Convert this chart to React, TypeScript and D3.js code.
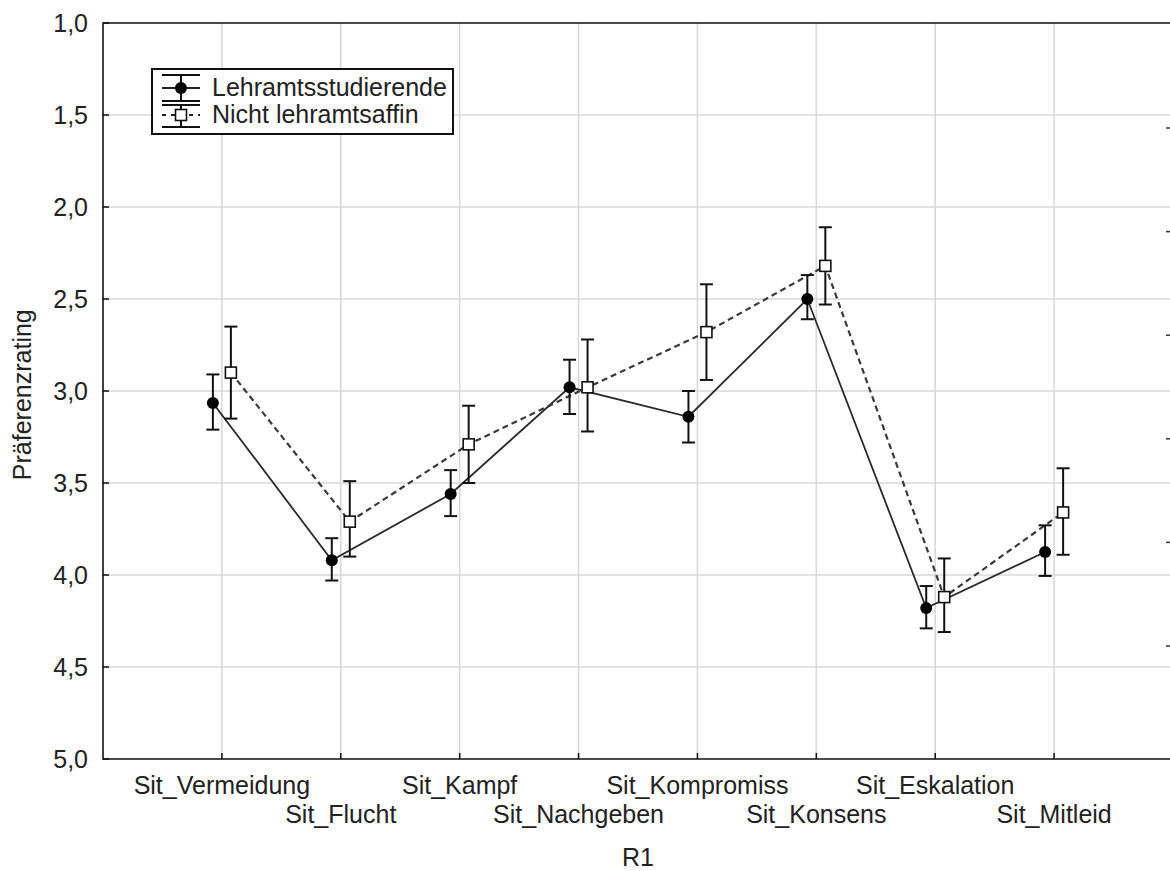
import React, { useRef, useEffect } from "react";
import * as d3 from "d3";

const categories = [
  "Sit_Vermeidung",
  "Sit_Flucht",
  "Sit_Kampf",
  "Sit_Nachgeben",
  "Sit_Kompromiss",
  "Sit_Konsens",
  "Sit_Eskalation",
  "Sit_Mitleid",
];

// Lehramtsstudierende (filled circle, solid line)
const lehrMean = [3.065, 3.92, 3.56, 2.98, 3.14, 2.5, 4.18, 3.875];
const lehrLow = [2.91, 3.8, 3.43, 2.83, 3.0, 2.37, 4.06, 3.73];
const lehrHigh = [3.21, 4.03, 3.68, 3.125, 3.28, 2.61, 4.29, 4.005];

// Nicht lehramtsaffin (open square, dashed line)
const nichtMean = [2.9, 3.71, 3.29, 2.98, 2.68, 2.32, 4.12, 3.66];
const nichtLow = [2.65, 3.49, 3.08, 2.72, 2.42, 2.11, 3.91, 3.42];
const nichtHigh = [3.15, 3.9, 3.5, 3.22, 2.94, 2.53, 4.31, 3.89];

const yTicks = [1.0, 1.5, 2.0, 2.5, 3.0, 3.5, 4.0, 4.5, 5.0];
const rightTicks = [0, 0.2, 0.4, 0.6, 0.8, 1.0];

const seriesNames = ["Lehramtsstudierende", "Nicht lehramtsaffin"];

const W = 1170;
const H = 871;
const FONT = "'Liberation Sans', Arial, sans-serif";
const FS = "25px";
const TEXT = "#222";

const App = () => {
  const svgRef = useRef<SVGSVGElement>(null);

  useEffect(() => {
    document.body.style.margin = "0";
    const svg = d3.select(svgRef.current);
    svg.selectAll("*").remove();

    const left = 103;
    const top = 23;
    const bottom = 759;
    const rightEdge = 1173;

    const x = d3.scaleLinear().domain([0, 9]).range([left, rightEdge]);
    const y = d3.scaleLinear().domain([1, 5]).range([top, bottom]);
    const yRight = d3.scaleLinear().domain([0, 1]).range([128, 646]);
    const off = 9;

    // grid
    const grid = svg.append("g");
    grid
      .selectAll(".hg")
      .data(yTicks.slice(1, -1))
      .enter()
      .append("line")
      .attr("x1", left)
      .attr("x2", W)
      .attr("y1", (d) => y(d))
      .attr("y2", (d) => y(d))
      .attr("stroke", "#d9d9d9")
      .attr("stroke-width", 1.6);
    grid
      .selectAll(".vg")
      .data(categories)
      .enter()
      .append("line")
      .attr("x1", (d, i) => x(i + 1))
      .attr("x2", (d, i) => x(i + 1))
      .attr("y1", top)
      .attr("y2", bottom)
      .attr("stroke", "#d9d9d9")
      .attr("stroke-width", 1.6);

    // axes frame
    svg
      .append("path")
      .attr("d", `M${W},${top}H${left}V${bottom}H${W}`)
      .attr("fill", "none")
      .attr("stroke", "#111")
      .attr("stroke-width", 1.6);

    // y ticks + labels
    const fmt = (v: number) => d3.format(".1f")(v).replace(".", ",");
    svg
      .selectAll(".yt")
      .data(yTicks)
      .enter()
      .append("line")
      .attr("x1", left)
      .attr("x2", left + 6)
      .attr("y1", (d) => y(d))
      .attr("y2", (d) => y(d))
      .attr("stroke", "#111")
      .attr("stroke-width", 1.5);
    svg
      .selectAll(".yl")
      .data(yTicks)
      .enter()
      .append("text")
      .attr("x", 88)
      .attr("y", (d) => y(d))
      .attr("dy", "0.35em")
      .attr("text-anchor", "end")
      .style("font-family", FONT)
      .style("font-size", FS)
      .style("fill", TEXT)
      .text(fmt);

    // right-side ticks
    svg
      .selectAll(".rt")
      .data(rightTicks)
      .enter()
      .append("line")
      .attr("x1", rightEdge - 7)
      .attr("x2", rightEdge)
      .attr("y1", (d) => yRight(d))
      .attr("y2", (d) => yRight(d))
      .attr("stroke", "#333")
      .attr("stroke-width", 1.5);

    // x ticks + labels
    svg
      .selectAll(".xt")
      .data(categories)
      .enter()
      .append("line")
      .attr("x1", (d, i) => x(i + 1))
      .attr("x2", (d, i) => x(i + 1))
      .attr("y1", bottom)
      .attr("y2", bottom - 6)
      .attr("stroke", "#111")
      .attr("stroke-width", 1.5);
    svg
      .selectAll(".xl")
      .data(categories)
      .enter()
      .append("text")
      .attr("x", (d, i) => x(i + 1))
      .attr("y", (d, i) => (i % 2 === 0 ? 794 : 823))
      .attr("text-anchor", "middle")
      .style("font-family", FONT)
      .style("font-size", FS)
      .style("fill", TEXT)
      .text((d) => d);

    // axis titles
    svg
      .append("text")
      .attr("x", x(4.5))
      .attr("y", 866)
      .attr("text-anchor", "middle")
      .style("font-family", FONT)
      .style("font-size", FS)
      .style("fill", TEXT)
      .text("R1");
    svg
      .append("text")
      .attr("transform", `translate(31,${y(3.02)}) rotate(-90)`)
      .attr("text-anchor", "middle")
      .style("font-family", FONT)
      .style("font-size", FS)
      .style("fill", TEXT)
      .text("Präferenzrating");

    const series = [
      { mean: lehrMean, low: lehrLow, high: lehrHigh, dx: -off, dash: null, color: "#2a2a2a" },
      { mean: nichtMean, low: nichtLow, high: nichtHigh, dx: off, dash: "6,4", color: "#3a3a3a" },
    ];

    series.forEach((s) => {
      const line = d3
        .line<number>()
        .x((d, i) => x(i + 1) + s.dx)
        .y((d) => y(d));
      svg
        .append("path")
        .datum(s.mean)
        .attr("d", line)
        .attr("fill", "none")
        .attr("stroke", s.color)
        .attr("stroke-width", s.dash ? 2.2 : 1.8)
        .attr("stroke-dasharray", s.dash);
    });

    series.forEach((s, si) => {
      const g = svg.append("g");
      s.mean.forEach((m, i) => {
        const cx = x(i + 1) + s.dx;
        const y1 = y(s.low[i]);
        const y2 = y(s.high[i]);
        g.append("line")
          .attr("x1", cx).attr("x2", cx).attr("y1", y1).attr("y2", y2)
          .attr("stroke", "#111").attr("stroke-width", 2);
        [y1, y2].forEach((yy) =>
          g.append("line")
            .attr("x1", cx - 6.5).attr("x2", cx + 6.5).attr("y1", yy).attr("y2", yy)
            .attr("stroke", "#111").attr("stroke-width", 2)
        );
        if (si === 0) {
          g.append("circle").attr("cx", cx).attr("cy", y(m)).attr("r", 6).attr("fill", "#000");
        } else {
          g.append("rect")
            .attr("x", cx - 5.5).attr("y", y(m) - 5.5).attr("width", 11).attr("height", 11)
            .attr("fill", "#fff").attr("stroke", "#111").attr("stroke-width", 1.6);
        }
      });
    });

    // legend
    const lg = svg.append("g");
    lg.append("rect")
      .attr("x", 152).attr("y", 69).attr("width", 301).attr("height", 65)
      .attr("fill", "#fff").attr("stroke", "#111").attr("stroke-width", 2);
    const rows = [
      { cy: 88, c1: 75, c2: 101, dash: null },
      { cy: 115, c1: 105, c2: 127, dash: "4,5" },
    ];
    rows.forEach((r, i) => {
      lg.append("line").attr("x1", 162).attr("x2", 200).attr("y1", r.cy).attr("y2", r.cy)
        .attr("stroke", "#222").attr("stroke-width", 2).attr("stroke-dasharray", r.dash);
      [r.c1, r.c2].forEach((yy) =>
        lg.append("line").attr("x1", 162).attr("x2", 200).attr("y1", yy).attr("y2", yy)
          .attr("stroke", "#111").attr("stroke-width", 2)
      );
      lg.append("line").attr("x1", 181).attr("x2", 181).attr("y1", r.c1).attr("y2", r.c2)
        .attr("stroke", "#111").attr("stroke-width", 2);
      if (i === 0) {
        lg.append("circle").attr("cx", 181).attr("cy", r.cy).attr("r", 6).attr("fill", "#000");
      } else {
        lg.append("rect").attr("x", 175.5).attr("y", r.cy - 5.5).attr("width", 11).attr("height", 11)
          .attr("fill", "#fff").attr("stroke", "#111").attr("stroke-width", 1.6);
      }
      lg.append("text")
        .attr("x", 212).attr("y", r.cy + 8)
        .style("font-family", FONT).style("font-size", FS).style("fill", TEXT)
        .text(seriesNames[i]);
    });
  }, []);

  return <svg ref={svgRef} width={W} height={H} style={{ display: "block", background: "#fff" }} />;
};

export default App;
